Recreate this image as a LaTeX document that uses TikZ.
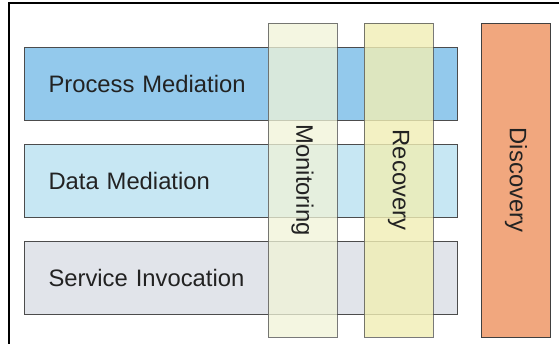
\documentclass[tikz,border=0pt]{standalone}
\usepackage{fontspec}
\setmainfont{Liberation Sans}
\usepackage{tikz}

\definecolor{procblue}{RGB}{147,201,236}
\definecolor{datablue}{RGB}{199,231,243}
\definecolor{servgray}{RGB}{225,228,234}
\definecolor{moncream}{RGB}{240,243,215}
\definecolor{recyellow}{RGB}{240,238,180}
\definecolor{discorange}{RGB}{241,167,126}
\definecolor{labelgray}{RGB}{34,34,34}

\begin{document}
\begin{tikzpicture}[x=1pt, y=-1pt,
    every node/.style={font=\fontsize{23.8}{28}\selectfont, text=labelgray},
    layer/.style={shape=rectangle, draw=black!70, line width=1pt, anchor=north west,
        minimum height=73pt, text width=385pt, inner xsep=24pt, align=left},
    pillar/.style={shape=rectangle, line width=1pt, rotate=-90,
        minimum width=314pt, minimum height=69pt}]
    \useasboundingbox (0,0) rectangle (559,343);
    \clip (0,0) rectangle (559,343);
    \draw[line width=1.5pt] (9,3) rectangle (620,400);
    \node[layer, fill=procblue] at (24,47) (proc) {Process Mediation};
    \node[layer, fill=datablue] at (24,144) (data) {Data Mediation};
    \node[layer, fill=servgray] at (24,241) (serv) {Service Invocation};
    \node[pillar, draw=black!70, draw opacity=0.75, fill=moncream, fill opacity=0.75, text opacity=1] at (302.5,180) (mon) {Monitoring};
    \node[pillar, draw=black!70, draw opacity=0.75, fill=recyellow, fill opacity=0.8, text opacity=1] at (398.5,180) (rec) {Recovery};
    \node[pillar, draw=black!75, fill=discorange] at (516,180) (disc) {Discovery};
\end{tikzpicture}
\end{document}
